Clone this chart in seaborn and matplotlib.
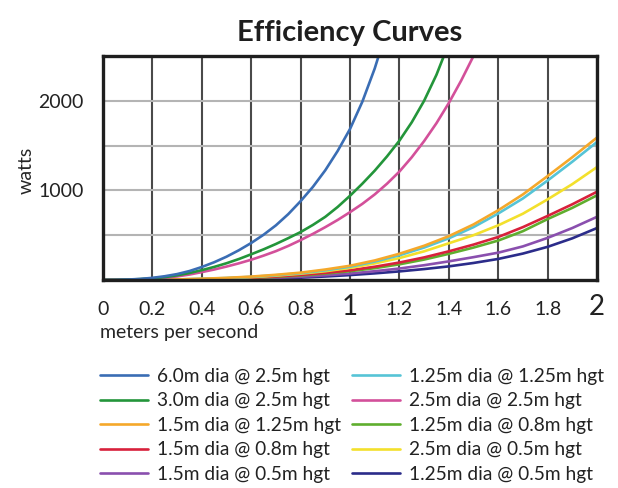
import numpy as np
import pandas as pd
import matplotlib
matplotlib.use("Agg")
import matplotlib.pyplot as plt
import seaborn as sns

# ---- data ----
fine_step = 0.05     # speed step of the three steep curves
coarse_step = 0.1    # speed step of the other curves
title = "Efficiency Curves"
x_label = "meters per second"
y_label = "watts"
x_ticks = [0, 0.2, 0.4, 0.6, 0.8, 1, 1.2, 1.4, 1.6, 1.8, 2]
x_tick_labels = ["0", "0.2", "0.4", "0.6", "0.8", "1", "1.2", "1.4", "1.6", "1.8", "2"]
y_ticks = [500, 1000, 1500, 2000]
y_tick_labels = ["", "1000", "", "2000"]

labels = [
    "6.0m dia @ 2.5m hgt",
    "3.0m dia @ 2.5m hgt",
    "1.5m dia @ 1.25m hgt",
    "1.5m dia @ 0.8m hgt",
    "1.5m dia @ 0.5m hgt",
    "1.25m dia @ 1.25m hgt",
    "2.5m dia @ 2.5m hgt",
    "1.25m dia @ 0.8m hgt",
    "2.5m dia @ 0.5m hgt",
    "1.25m dia @ 0.5m hgt",
]

# steep curves, every 0.05 m/s
w_6_0_at_2_5 = [0, 1, 5, 12, 24, 42, 66, 100, 145, 198, 260, 332, 413, 505, 610,
                735, 880, 1040, 1225, 1440, 1685, 1990, 2360, 2800]
w_3_0_at_2_5 = [0, 1, 4, 10, 19, 32, 52, 78, 110, 146, 187, 234, 287, 342, 402,
                467, 535, 615, 705, 815, 940, 1075, 1220, 1380, 1555, 1760, 2000,
                2290, 2640]
w_2_5_at_2_5 = [0, 1, 3, 7, 14, 25, 40, 61, 88, 117, 150, 186, 226, 272, 322, 380,
                445, 515, 590, 670, 757, 850, 955, 1075, 1210, 1370, 1550, 1750,
                1975, 2225, 2500, 2800]
# gentle curves, every 0.1 m/s
w_1_5_at_1_25 = [0, 1, 3, 7, 14, 24, 38, 58, 82, 117, 159, 218, 293, 382, 489, 620, 778, 955, 1160, 1370, 1590]
w_1_25_at_1_25 = [0, 1, 3, 6, 13, 22, 35, 53, 76, 108, 148, 205, 276, 362, 465, 590, 742, 910, 1110, 1320, 1540]
w_2_5_at_0_5 = [0, 0, 2, 5, 11, 19, 31, 48, 70, 98, 135, 185, 245, 320, 410, 500, 610, 740, 900, 1070, 1260]
w_1_5_at_0_8 = [0, 0, 1, 4, 8, 15, 25, 39, 57, 80, 108, 148, 195, 252, 320, 395, 480, 590, 715, 845, 985]
w_1_25_at_0_8 = [0, 0, 1, 3, 7, 13, 22, 34, 50, 72, 98, 132, 175, 228, 292, 362, 440, 545, 680, 805, 945]
w_1_5_at_0_5 = [0, 0, 1, 2, 5, 9, 15, 24, 36, 52, 72, 98, 128, 165, 208, 255, 305, 375, 470, 580, 705]
w_1_25_at_0_5 = [0, 0, 0, 1, 3, 6, 10, 17, 26, 39, 55, 74, 96, 122, 152, 190, 235, 295, 370, 465, 580]

series_values = {
    "6.0m dia @ 2.5m hgt": (w_6_0_at_2_5, fine_step),
    "3.0m dia @ 2.5m hgt": (w_3_0_at_2_5, fine_step),
    "2.5m dia @ 2.5m hgt": (w_2_5_at_2_5, fine_step),
    "1.5m dia @ 1.25m hgt": (w_1_5_at_1_25, coarse_step),
    "1.5m dia @ 0.8m hgt": (w_1_5_at_0_8, coarse_step),
    "1.5m dia @ 0.5m hgt": (w_1_5_at_0_5, coarse_step),
    "1.25m dia @ 1.25m hgt": (w_1_25_at_1_25, coarse_step),
    "1.25m dia @ 0.8m hgt": (w_1_25_at_0_8, coarse_step),
    "2.5m dia @ 0.5m hgt": (w_2_5_at_0_5, coarse_step),
    "1.25m dia @ 0.5m hgt": (w_1_25_at_0_5, coarse_step),
}

colors = {
    "6.0m dia @ 2.5m hgt": "#3a6db4",
    "3.0m dia @ 2.5m hgt": "#23953a",
    "1.5m dia @ 1.25m hgt": "#f5a82a",
    "1.5m dia @ 0.8m hgt": "#d8213b",
    "1.5m dia @ 0.5m hgt": "#8a4fae",
    "1.25m dia @ 1.25m hgt": "#56c4d6",
    "2.5m dia @ 2.5m hgt": "#d3509a",
    "1.25m dia @ 0.8m hgt": "#5fae2e",
    "2.5m dia @ 0.5m hgt": "#f3e02c",
    "1.25m dia @ 0.5m hgt": "#2b2c8a",
}

rows = []
for name in labels:
    vals, step = series_values[name]
    for i, v in enumerate(vals):
        rows.append({"speed": round(i * step, 3), "watts": v, "series": name})
df = pd.DataFrame(rows)

# ---- style ----
sns.set_style("white")
plt.rcParams["font.family"] = ["Lato", "DejaVu Sans"]
plt.rcParams["text.color"] = "#222222"

fig = plt.figure(figsize=(6.18, 4.88), dpi=100)
ax = fig.add_axes([103 / 618, 1 - 280 / 488, 494 / 618, 224 / 488])

draw_order = [
    "1.25m dia @ 0.5m hgt", "1.5m dia @ 0.5m hgt", "1.25m dia @ 0.8m hgt",
    "1.5m dia @ 0.8m hgt", "2.5m dia @ 0.5m hgt", "1.25m dia @ 1.25m hgt",
    "1.5m dia @ 1.25m hgt", "2.5m dia @ 2.5m hgt", "3.0m dia @ 2.5m hgt",
    "6.0m dia @ 2.5m hgt",
]
sns.lineplot(data=df, x="speed", y="watts", hue="series", hue_order=draw_order,
             palette=colors, linewidth=1.9, estimator=None, ax=ax, legend=True)

handles, hlabels = ax.get_legend_handles_labels()
hmap = dict(zip(hlabels, handles))
if ax.get_legend() is not None:
    ax.get_legend().remove()

ax.set_xlim(0, 2)
ax.set_ylim(0, 2500)
ax.set_xticks(x_ticks, x_tick_labels)
ax.set_yticks(y_ticks, y_tick_labels)
ax.tick_params(axis="both", length=0, labelsize=14, colors="#222222")
ax.tick_params(axis="x", pad=25)
ax.tick_params(axis="y", pad=14)
for lbl in ax.get_xticklabels():
    lbl.set_verticalalignment("baseline")
    if lbl.get_text() in ("1", "2"):
        lbl.set_fontsize(20)

ax.grid(axis="x", color="#4a4a4a", linewidth=1.5)
ax.grid(axis="y", color="#b4b4b4", linewidth=1.5)
ax.set_axisbelow(True)
for sp in ax.spines.values():
    sp.set_visible(True)
    sp.set_color("#1e1e1e")
    sp.set_linewidth(2.4)

ax.set_title(title, fontsize=21, fontweight="bold", pad=11, color="#1e1e1e")
ax.set_xlabel(x_label, fontsize=14, ha="left")
ax.xaxis.set_label_coords(-0.006, -0.195)
ax.set_ylabel(y_label, fontsize=14)
ax.yaxis.set_label_coords(-0.138, 0.49)

fig.legend([hmap[n] for n in labels], labels, loc="upper left",
           bbox_to_anchor=(100 / 618, 1 - 368 / 488), ncol=2, frameon=False,
           fontsize=13.8, handlelength=2.5, handletextpad=0.45, columnspacing=0.6,
           labelspacing=0.39, borderpad=0, borderaxespad=0)

fig.savefig("out.png", dpi=100)
